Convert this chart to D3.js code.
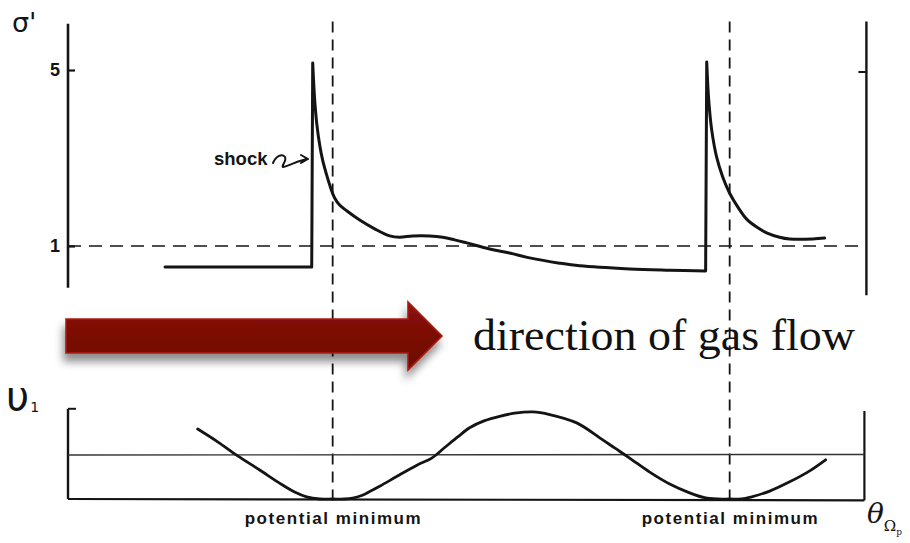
<!DOCTYPE html>
<html>
<head>
<meta charset="utf-8">
<script src="https://cdn.jsdelivr.net/npm/d3@7"></script>
<style>
  html, body { margin: 0; background: #fff; }
  svg { display: block; }
</style>
</head>
<body>
<svg id="chart" width="910" height="543"></svg>
<script>
// Phase angle θ (degrees); the potential minima sit at 0° and 360°.
// Upper panel: normalised gas density σ' along the spiral arm.
const sigmaTheta  = [-152, -19, -18.1, -16.3, -14.5, -11.8, -9.1, -5.4, -1.8, 1.8, 6.3, 12.7, 24.5, 38.1, 51.7, 60.8, 72.5, 88.0, 99.8, 110.6, 121.5, 142.4, 160.5, 178.6, 205.8, 224.0, 269.3, 305.6, 338.2,
                     339.2, 341.0, 343.7, 348.2, 353.7, 360, 367.3, 375.4, 384.5, 393.5, 405.3, 414.4, 435.3, 446.1];
const sigmaValues = [0.52, 0.52, 5.16, 4.32, 3.80, 3.30, 2.95, 2.61, 2.32, 2.09, 1.93, 1.80, 1.59, 1.39, 1.23, 1.20, 1.23, 1.23, 1.20, 1.14, 1.07, 0.93, 0.84, 0.73, 0.61, 0.55, 0.48, 0.45, 0.43,
                     5.18, 4.32, 3.64, 3.02, 2.57, 2.20, 1.89, 1.61, 1.43, 1.30, 1.20, 1.16, 1.16, 1.18];
const sigmaTicks  = [1, 5];

// Lower panel: spiral gravitational potential 𝒱₁ (relative units).
const potTheta  = [-122.4, -104.3, -86.1, -66.2, -48.1, -34.5, -23.6, -11.8, 0, 10.9, 18.1, 26.3, 33.6, 42.6, 60.8, 78.9, 89.8, 101.6, 113.4, 124.2, 137.8, 151.4, 165.0, 181.4, 196.8, 221.3, 242.2, 255.7, 269.3, 287.5, 305.6, 323.7, 337.3, 349.1, 360, 370.9, 380.0, 396.3, 414.4, 432.6, 447.0];
const potValues = [1.59, 1.30, 0.98, 0.66, 0.36, 0.16, 0.05, 0.0, 0, 0, 0.02, 0.08, 0.17, 0.29, 0.55, 0.80, 0.93, 1.17, 1.41, 1.62, 1.78, 1.88, 1.95, 1.98, 1.92, 1.73, 1.39, 1.16, 0.93, 0.61, 0.34, 0.14, 0.03, 0, 0, 0, 0.05, 0.18, 0.39, 0.64, 0.89];
const potRef    = 1;

// Phases of the potential minima.
const minimaTheta  = [0, 360];
const minimaLabels = ["potential minimum", "potential minimum"];

const ink = "#141414";
const svg = d3.select("#chart");

const x     = d3.scaleLinear().domain([-240, 480]).range([68, 862]);
const ySig  = d3.scaleLinear().domain([1, 5]).range([246, 70]);
const yPot  = d3.scaleLinear().domain([0, 2]).range([499, 411]);

const thetaLeft = -240, thetaRight = 484;

// ---------- defs: arrow gradient and drop shadow ----------
const defs = svg.append("defs");
const grad = defs.append("linearGradient").attr("id", "flowFill")
  .attr("x1", 0).attr("y1", 0).attr("x2", 0).attr("y2", 1);
grad.append("stop").attr("offset", "0%").attr("stop-color", "#8c1409");
grad.append("stop").attr("offset", "50%").attr("stop-color", "#7a0c05");
grad.append("stop").attr("offset", "100%").attr("stop-color", "#6c0803");
const shadow = defs.append("filter").attr("id", "flowShadow")
  .attr("x", "-10%").attr("y", "-30%").attr("width", "130%").attr("height", "180%");
shadow.append("feDropShadow").attr("dx", -2).attr("dy", 8)
  .attr("stdDeviation", 4.5).attr("flood-color", "#000").attr("flood-opacity", 0.45);

// ---------- potential-minimum guide lines ----------
svg.append("g").selectAll("line").data(minimaTheta).join("line")
  .attr("x1", d => x(d)).attr("x2", d => x(d))
  .attr("y1", ySig(6.1)).attr("y2", yPot(-0.1))
  .attr("stroke", ink).attr("stroke-width", 1.8)
  .attr("stroke-dasharray", "11,7");

// ---------- upper panel frame ----------
const gTop = svg.append("g");
gTop.append("line")
  .attr("x1", x(thetaLeft)).attr("x2", x(thetaLeft))
  .attr("y1", ySig(6.05)).attr("y2", ySig(0.05))
  .attr("stroke", ink).attr("stroke-width", 2.6);
gTop.append("line")
  .attr("x1", x(thetaRight)).attr("x2", x(thetaRight))
  .attr("y1", ySig(6.1)).attr("y2", ySig(-0.12))
  .attr("stroke", ink).attr("stroke-width", 2.4);
// tick on the right border at σ' = 5
gTop.append("line")
  .attr("x1", x(thetaRight) - 8).attr("x2", x(thetaRight))
  .attr("y1", ySig(5) + 2).attr("y2", ySig(5) + 2)
  .attr("stroke", ink).attr("stroke-width", 2);
// σ' = 1 reference
gTop.append("line")
  .attr("x1", x(thetaLeft)).attr("x2", x(thetaRight) - 4)
  .attr("y1", ySig(1)).attr("y2", ySig(1))
  .attr("stroke", ink).attr("stroke-width", 1.6)
  .attr("stroke-dasharray", "13,8");

const sigAxis = gTop.append("g")
  .attr("transform", `translate(${x(thetaLeft)},0)`)
  .call(d3.axisLeft(ySig).tickValues(sigmaTicks).tickSize(-7).tickPadding(8).tickFormat(d3.format("d")));
sigAxis.select(".domain").remove();
sigAxis.selectAll(".tick line").attr("stroke", ink).attr("stroke-width", 2.2);
sigAxis.selectAll(".tick text")
  .attr("fill", ink)
  .style("font-family", "'Liberation Sans', Arial, sans-serif")
  .style("font-size", "18px")
  .style("font-weight", "bold");

// density curve: smooth between shock fronts, straight across each jump
const sigmaPts = sigmaTheta.map((t, i) => [t, sigmaValues[i]]);
const pieces = [];
let cur = [sigmaPts[0]];
for (let i = 1; i < sigmaPts.length; i++) {
  const p = sigmaPts[i], q = sigmaPts[i - 1];
  if (p[0] - q[0] < 1.5) { pieces.push(cur); pieces.push([q, p]); cur = [p]; }
  else cur.push(p);
}
pieces.push(cur);
const sigLine = d3.line().x(d => x(d[0])).y(d => ySig(d[1])).curve(d3.curveCatmullRom.alpha(0.5));
gTop.append("path")
  .attr("d", pieces.map(p => sigLine(p)).join(""))
  .attr("fill", "none").attr("stroke", ink).attr("stroke-width", 3)
  .attr("stroke-linejoin", "round").attr("stroke-linecap", "round");

// y label σ'
gTop.append("text").attr("x", 12).attr("y", 32)
  .style("font-family", "'DejaVu Sans', sans-serif").style("font-size", "27px")
  .attr("fill", ink).text("σ'");

// "shock" annotation
gTop.append("text").attr("x", 214).attr("y", 165)
  .style("font-family", "'Liberation Sans', Arial, sans-serif")
  .style("font-size", "18.5px").style("font-weight", "bold")
  .attr("fill", ink).text("shock");
const sq = d3.path();
sq.moveTo(273, 163);
sq.bezierCurveTo(276, 156, 282, 153, 285, 157);
sq.bezierCurveTo(287, 161, 281, 166, 283, 167);
sq.bezierCurveTo(291, 165, 299, 160, 308, 159);
sq.moveTo(301, 155); sq.lineTo(308, 159); sq.lineTo(301, 163);
gTop.append("path").attr("d", sq.toString())
  .attr("fill", "none").attr("stroke", ink).attr("stroke-width", 2)
  .attr("stroke-linecap", "round").attr("stroke-linejoin", "round");

// ---------- gas flow arrow ----------
const ar = d3.path();
ar.moveTo(66, 319); ar.lineTo(408, 319); ar.lineTo(408, 302); ar.lineTo(442, 336);
ar.lineTo(408, 370); ar.lineTo(408, 353); ar.lineTo(66, 353); ar.closePath();
svg.append("path").attr("d", ar.toString())
  .attr("fill", "url(#flowFill)").attr("stroke", "#ad1a0e").attr("stroke-width", 1.6)
  .attr("stroke-linejoin", "miter").attr("filter", "url(#flowShadow)");
svg.append("text").attr("x", 473).attr("y", 350)
  .attr("textLength", 382).attr("lengthAdjust", "spacingAndGlyphs")
  .style("font-family", "'Liberation Serif', 'Times New Roman', serif")
  .style("font-size", "45px").attr("fill", "#111")
  .text("direction of gas flow");

// ---------- lower panel ----------
const gBot = svg.append("g");
gBot.append("line")
  .attr("x1", x(thetaLeft)).attr("x2", x(thetaLeft))
  .attr("y1", yPot(2.05)).attr("y2", yPot(0))
  .attr("stroke", ink).attr("stroke-width", 2.4);
gBot.append("line")
  .attr("x1", x(thetaLeft)).attr("x2", x(thetaLeft) + 8)
  .attr("y1", yPot(2.05)).attr("y2", yPot(2.05))
  .attr("stroke", ink).attr("stroke-width", 2);
gBot.append("line")
  .attr("x1", x(thetaRight) - 2).attr("x2", x(thetaRight) - 2)
  .attr("y1", yPot(2.0)).attr("y2", yPot(-0.03))
  .attr("stroke", ink).attr("stroke-width", 2.2);
gBot.append("line")
  .attr("x1", x(thetaLeft)).attr("x2", x(thetaRight) - 2)
  .attr("y1", yPot(0)).attr("y2", yPot(-0.03))
  .attr("stroke", ink).attr("stroke-width", 2.2);
gBot.append("line")
  .attr("x1", x(thetaLeft)).attr("x2", x(thetaRight) - 2)
  .attr("y1", yPot(potRef)).attr("y2", yPot(potRef) - 0.5)
  .attr("stroke", "#333").attr("stroke-width", 1.4);

const potPts = potTheta.map((t, i) => [t, potValues[i]]);
gBot.append("path")
  .attr("d", d3.line().x(d => x(d[0])).y(d => yPot(d[1])).curve(d3.curveCatmullRom.alpha(0.5))(potPts))
  .attr("fill", "none").attr("stroke", ink).attr("stroke-width", 2.8)
  .attr("stroke-linejoin", "round").attr("stroke-linecap", "round");

// y label 𝒱₁ (drawn as υ with subscript)
const vl = gBot.append("text").attr("x", 6).attr("y", 410)
  .style("font-family", "'DejaVu Sans', sans-serif").attr("fill", ink);
vl.append("tspan").style("font-size", "40px").text("υ");
vl.append("tspan").attr("dx", 1).attr("dy", 2).style("font-size", "14px").text("1");

// potential minimum labels
gBot.append("g").selectAll("text").data(minimaTheta).join("text")
  .attr("x", d => x(d)).attr("y", 524)
  .attr("text-anchor", "middle")
  .attr("textLength", 176).attr("lengthAdjust", "spacing")
  .style("font-family", "'Liberation Sans', Arial, sans-serif")
  .style("font-size", "17px").style("font-weight", "bold")
  .attr("fill", ink)
  .text((d, i) => minimaLabels[i]);

// x label θ_Ωp
const xl = svg.append("text").attr("x", 867).attr("y", 523)
  .style("font-family", "'DejaVu Serif', serif").attr("fill", ink);
xl.append("tspan").style("font-size", "28px").style("font-style", "italic").text("θ");
xl.append("tspan").attr("dy", 8).style("font-size", "15px").text("Ω");
xl.append("tspan").attr("dy", 4).style("font-size", "9px").text("p");
</script>
</body>
</html>
